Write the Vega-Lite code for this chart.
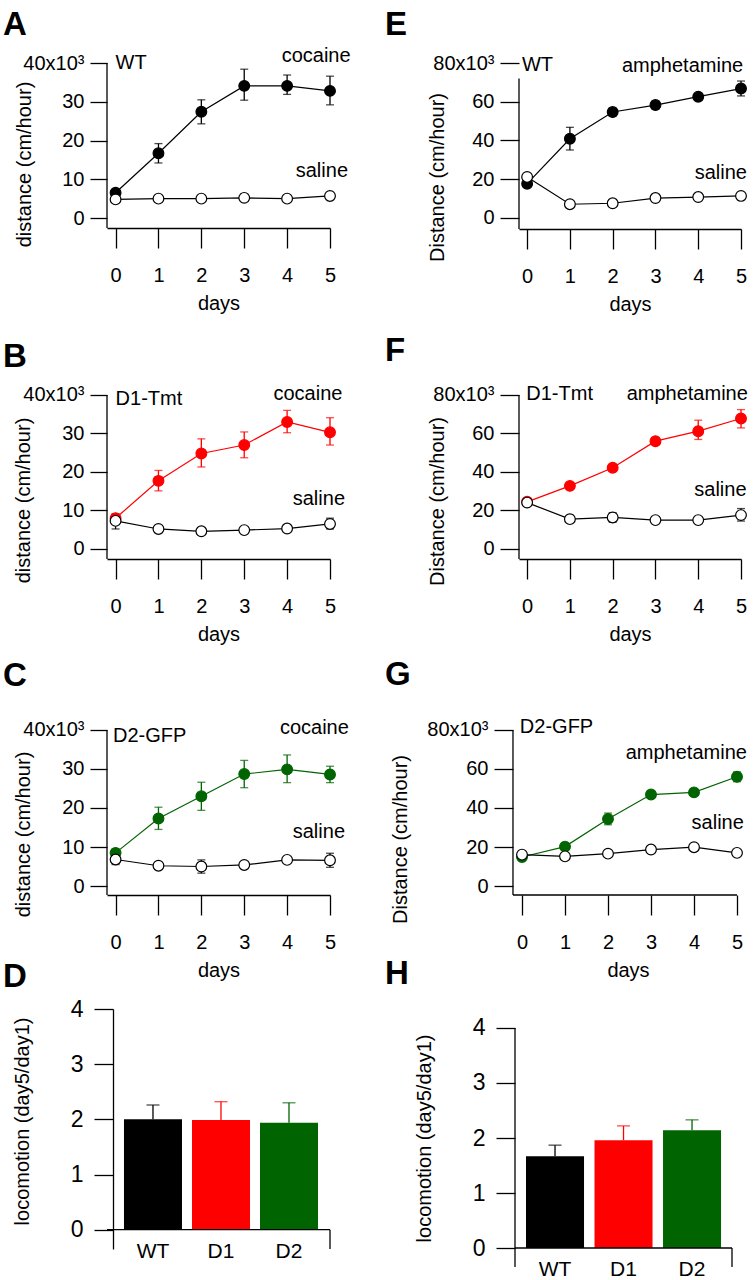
{
"$schema": "https://vega.github.io/schema/vega-lite/v6.json",
"background": "white",
"padding": {"left": 3, "top": 9, "right": 0, "bottom": 0},
"datasets": {
"lines": [
{"panel":"A","group":"drug","day":0,"mean":6500,"lo":5800,"hi":7200},
{"panel":"A","group":"drug","day":1,"mean":16700,"lo":14200,"hi":19200},
{"panel":"A","group":"drug","day":2,"mean":27400,"lo":24300,"hi":30500},
{"panel":"A","group":"drug","day":3,"mean":34100,"lo":30400,"hi":38400},
{"panel":"A","group":"drug","day":4,"mean":34100,"lo":31900,"hi":36900},
{"panel":"A","group":"drug","day":5,"mean":32800,"lo":29200,"hi":36600},
{"panel":"A","group":"saline","day":0,"mean":4800,"lo":4300,"hi":5300},
{"panel":"A","group":"saline","day":1,"mean":5000,"lo":4600,"hi":5400},
{"panel":"A","group":"saline","day":2,"mean":5000,"lo":4600,"hi":5400},
{"panel":"A","group":"saline","day":3,"mean":5200,"lo":4300,"hi":6200},
{"panel":"A","group":"saline","day":4,"mean":5000,"lo":4600,"hi":5400},
{"panel":"A","group":"saline","day":5,"mean":5700,"lo":5300,"hi":6100},
{"panel":"B","group":"drug","day":0,"mean":8000,"lo":7000,"hi":9000},
{"panel":"B","group":"drug","day":1,"mean":17700,"lo":15100,"hi":20400},
{"panel":"B","group":"drug","day":2,"mean":24800,"lo":21300,"hi":28600},
{"panel":"B","group":"drug","day":3,"mean":27000,"lo":23700,"hi":30400},
{"panel":"B","group":"drug","day":4,"mean":33000,"lo":30200,"hi":36000},
{"panel":"B","group":"drug","day":5,"mean":30300,"lo":27000,"hi":34100},
{"panel":"B","group":"saline","day":0,"mean":7300,"lo":5200,"hi":9100},
{"panel":"B","group":"saline","day":1,"mean":5200,"lo":4700,"hi":5700},
{"panel":"B","group":"saline","day":2,"mean":4600,"lo":4100,"hi":5100},
{"panel":"B","group":"saline","day":3,"mean":4900,"lo":4400,"hi":5400},
{"panel":"B","group":"saline","day":4,"mean":5300,"lo":4800,"hi":5800},
{"panel":"B","group":"saline","day":5,"mean":6500,"lo":5200,"hi":8000},
{"panel":"C","group":"drug","day":0,"mean":8500,"lo":7500,"hi":9500},
{"panel":"C","group":"drug","day":1,"mean":17300,"lo":14500,"hi":20200},
{"panel":"C","group":"drug","day":2,"mean":23000,"lo":19400,"hi":26600},
{"panel":"C","group":"drug","day":3,"mean":28700,"lo":25200,"hi":32200},
{"panel":"C","group":"drug","day":4,"mean":29900,"lo":26500,"hi":33600},
{"panel":"C","group":"drug","day":5,"mean":28600,"lo":26500,"hi":30700},
{"panel":"C","group":"saline","day":0,"mean":6800,"lo":5500,"hi":8000},
{"panel":"C","group":"saline","day":1,"mean":5200,"lo":4700,"hi":5700},
{"panel":"C","group":"saline","day":2,"mean":5000,"lo":3300,"hi":6700},
{"panel":"C","group":"saline","day":3,"mean":5400,"lo":4900,"hi":5900},
{"panel":"C","group":"saline","day":4,"mean":6700,"lo":6200,"hi":7200},
{"panel":"C","group":"saline","day":5,"mean":6600,"lo":4800,"hi":8400},
{"panel":"E","group":"drug","day":0,"mean":17700,"lo":16500,"hi":18900},
{"panel":"E","group":"drug","day":1,"mean":40900,"lo":35100,"hi":46800},
{"panel":"E","group":"drug","day":2,"mean":54700,"lo":52700,"hi":56700},
{"panel":"E","group":"drug","day":3,"mean":58300,"lo":56300,"hi":60300},
{"panel":"E","group":"drug","day":4,"mean":62600,"lo":61000,"hi":64200},
{"panel":"E","group":"drug","day":5,"mean":66800,"lo":63000,"hi":70700},
{"panel":"E","group":"saline","day":0,"mean":21200,"lo":20200,"hi":22200},
{"panel":"E","group":"saline","day":1,"mean":7100,"lo":6300,"hi":7900},
{"panel":"E","group":"saline","day":2,"mean":7600,"lo":6800,"hi":8400},
{"panel":"E","group":"saline","day":3,"mean":10300,"lo":9500,"hi":11100},
{"panel":"E","group":"saline","day":4,"mean":10800,"lo":10000,"hi":11600},
{"panel":"E","group":"saline","day":5,"mean":11400,"lo":10600,"hi":12200},
{"panel":"F","group":"drug","day":0,"mean":24500,"lo":23500,"hi":25500},
{"panel":"F","group":"drug","day":1,"mean":32800,"lo":31300,"hi":34300},
{"panel":"F","group":"drug","day":2,"mean":42200,"lo":40700,"hi":43700},
{"panel":"F","group":"drug","day":3,"mean":56000,"lo":54500,"hi":57500},
{"panel":"F","group":"drug","day":4,"mean":61200,"lo":56900,"hi":66900},
{"panel":"F","group":"drug","day":5,"mean":67800,"lo":62900,"hi":72400},
{"panel":"F","group":"saline","day":0,"mean":24100,"lo":23100,"hi":25100},
{"panel":"F","group":"saline","day":1,"mean":15500,"lo":13500,"hi":17500},
{"panel":"F","group":"saline","day":2,"mean":16400,"lo":13900,"hi":18900},
{"panel":"F","group":"saline","day":3,"mean":15000,"lo":14000,"hi":16000},
{"panel":"F","group":"saline","day":4,"mean":15000,"lo":14000,"hi":16000},
{"panel":"F","group":"saline","day":5,"mean":17600,"lo":14500,"hi":21000},
{"panel":"G","group":"drug","day":0,"mean":14900,"lo":13900,"hi":15900},
{"panel":"G","group":"drug","day":1,"mean":20200,"lo":19000,"hi":21400},
{"panel":"G","group":"drug","day":2,"mean":34400,"lo":31400,"hi":37400},
{"panel":"G","group":"drug","day":3,"mean":46900,"lo":45400,"hi":48400},
{"panel":"G","group":"drug","day":4,"mean":48000,"lo":46500,"hi":49500},
{"panel":"G","group":"drug","day":5,"mean":56000,"lo":53500,"hi":58500},
{"panel":"G","group":"saline","day":0,"mean":16100,"lo":15100,"hi":17100},
{"panel":"G","group":"saline","day":1,"mean":15200,"lo":14400,"hi":16000},
{"panel":"G","group":"saline","day":2,"mean":16600,"lo":15800,"hi":17400},
{"panel":"G","group":"saline","day":3,"mean":18700,"lo":17900,"hi":19500},
{"panel":"G","group":"saline","day":4,"mean":19900,"lo":19100,"hi":20700},
{"panel":"G","group":"saline","day":5,"mean":17000,"lo":16200,"hi":17800}
],
"bars": [
{"panel":"D","genotype":"WT","ratio":2.0,"upper":2.26},
{"panel":"D","genotype":"D1","ratio":1.99,"upper":2.32},
{"panel":"D","genotype":"D2","ratio":1.94,"upper":2.3},
{"panel":"H","genotype":"WT","ratio":1.67,"upper":1.87},
{"panel":"H","genotype":"D1","ratio":1.96,"upper":2.22},
{"panel":"H","genotype":"D2","ratio":2.14,"upper":2.33}
]
},
"columns": 2,
"bounds": "flush",
"spacing": {"row": 114, "column": 189},
"resolve": {"scale": {"x": "independent", "y": "independent", "color": "independent"}},
"concat": [
{
"width": 223, "height": 165,
"title": {"text": "A", "dx": -104, "offset": 4},
"layer": [
{"data": {"name": "lines"}, "transform": [{"filter": "datum.panel === 'A'"}],
 "mark": {"type": "errorbar", "ticks": {"size": 8}, "thickness": 1.3},
 "encoding": {
  "x": {"field": "day", "type": "quantitative", "scale": {"domain": [-0.2, 5], "nice": false, "zero": false},
        "axis": {"values": [0,1,2,3,4,5], "format": "d", "title": "days", "tickSize": 20, "labelPadding": 17, "titlePadding": 8}},
  "y": {"field": "lo", "type": "quantitative", "scale": {"domain": [-2580, 40000], "nice": false, "zero": false},
        "axis": {"values": [0,10000,20000,30000,40000], "labelExpr": "datum.value === 40000 ? '40x10³' : format(datum.value / 1000, 'd')", "domain": false, "tickSize": 17, "labelPadding": 6, "title": "distance (cm/hour)", "titleX": -73, "titleY": 101}},
  "y2": {"field": "hi"},
  "color": {"condition": {"test": "datum.group === 'saline'", "value": "#000000"}, "value": "#000000"}}},
{"data": {"name": "lines"}, "transform": [{"filter": "datum.panel === 'A'"}],
 "mark": {"type": "line", "strokeWidth": 1.2},
 "encoding": {"x": {"field": "day", "type": "quantitative"}, "y": {"field": "mean", "type": "quantitative"}, "detail": {"field": "group"},
  "color": {"condition": {"test": "datum.group === 'saline'", "value": "#000000"}, "value": "#000000"}}},
{"data": {"name": "lines"}, "transform": [{"filter": "datum.panel === 'A'"}],
 "mark": {"type": "point", "filled": true, "size": 115, "strokeWidth": 1.2, "opacity": 1},
 "encoding": {"x": {"field": "day", "type": "quantitative"}, "y": {"field": "mean", "type": "quantitative"},
  "fill": {"condition": {"test": "datum.group === 'saline'", "value": "#ffffff"}, "value": "#000000"},
  "stroke": {"condition": {"test": "datum.group === 'saline'", "value": "#000000"}, "value": "#000000"}}},
{"data": {"values": [{}]}, "mark": {"type": "rule", "color": "#000000", "strokeWidth": 1.3},
 "encoding": {"x": {"datum": -0.2}, "y": {"datum": -2580}, "y2": {"datum": 40000}}},
{"data": {"values": [{"t": "WT", "d": 0.0, "v": 39900}]},
 "mark": {"type": "text", "align": "left", "baseline": "middle", "fontSize": 20, "color": "#000000"},
 "encoding": {"x": {"field": "d", "type": "quantitative"}, "y": {"field": "v", "type": "quantitative"}, "text": {"field": "t"}}},
{"data": {"values": [{"t": "cocaine", "d": 5.48, "v": 41800}, {"t": "saline", "d": 5.42, "v": 12100}]},
 "mark": {"type": "text", "align": "right", "baseline": "middle", "fontSize": 20, "color": "#000000"},
 "encoding": {"x": {"field": "d", "type": "quantitative"}, "y": {"field": "v", "type": "quantitative"}, "text": {"field": "t"}}}
]
},
{
"width": 222, "height": 166,
"title": {"text": "E", "dx": -134, "offset": 11},
"layer": [
{"data": {"name": "lines"}, "transform": [{"filter": "datum.panel === 'E'"}],
 "mark": {"type": "errorbar", "ticks": {"size": 8}, "thickness": 1.3},
 "encoding": {
  "x": {"field": "day", "type": "quantitative", "scale": {"domain": [-0.19, 5], "nice": false, "zero": false},
        "axis": {"values": [0,1,2,3,4,5], "format": "d", "title": "days", "tickSize": 20, "labelPadding": 17, "titlePadding": 8}},
  "y": {"field": "lo", "type": "quantitative", "scale": {"domain": [-5680, 80000], "nice": false, "zero": false},
        "axis": {"values": [0,20000,40000,60000,80000], "labelExpr": "datum.value === 80000 ? '80x10³' : format(datum.value / 1000, 'd')", "domain": false, "tickSize": 19, "labelPadding": 6, "title": "Distance (cm/hour)", "titleX": -72, "titleY": 114}},
  "y2": {"field": "hi"},
  "color": {"condition": {"test": "datum.group === 'saline'", "value": "#000000"}, "value": "#000000"}}},
{"data": {"name": "lines"}, "transform": [{"filter": "datum.panel === 'E'"}],
 "mark": {"type": "line", "strokeWidth": 1.2},
 "encoding": {"x": {"field": "day", "type": "quantitative"}, "y": {"field": "mean", "type": "quantitative"}, "detail": {"field": "group"},
  "color": {"condition": {"test": "datum.group === 'saline'", "value": "#000000"}, "value": "#000000"}}},
{"data": {"name": "lines"}, "transform": [{"filter": "datum.panel === 'E'"}],
 "mark": {"type": "point", "filled": true, "size": 115, "strokeWidth": 1.2, "opacity": 1},
 "encoding": {"x": {"field": "day", "type": "quantitative"}, "y": {"field": "mean", "type": "quantitative"},
  "fill": {"condition": {"test": "datum.group === 'saline'", "value": "#ffffff"}, "value": "#000000"},
  "stroke": {"condition": {"test": "datum.group === 'saline'", "value": "#000000"}, "value": "#000000"}}},
{"data": {"values": [{}]}, "mark": {"type": "rule", "color": "#000000", "strokeWidth": 1.3},
 "encoding": {"x": {"datum": -0.19}, "y": {"datum": -5680}, "y2": {"datum": 72000}}},
{"data": {"values": [{"t": "WT", "d": -0.12, "v": 79000}]},
 "mark": {"type": "text", "align": "left", "baseline": "middle", "fontSize": 20, "color": "#000000"},
 "encoding": {"x": {"field": "d", "type": "quantitative"}, "y": {"field": "v", "type": "quantitative"}, "text": {"field": "t"}}},
{"data": {"values": [{"t": "amphetamine", "d": 5.05, "v": 78500}, {"t": "saline", "d": 5.14, "v": 23400}]},
 "mark": {"type": "text", "align": "right", "baseline": "middle", "fontSize": 20, "color": "#000000"},
 "encoding": {"x": {"field": "d", "type": "quantitative"}, "y": {"field": "v", "type": "quantitative"}, "text": {"field": "t"}}}
]
},
{
"width": 223, "height": 216,
"title": {"text": "B", "dx": -104, "offset": -31},
"layer": [
{"data": {"name": "lines"}, "transform": [{"filter": "datum.panel === 'B'"}],
 "mark": {"type": "errorbar", "ticks": {"size": 8}, "thickness": 1.3},
 "encoding": {
  "x": {"field": "day", "type": "quantitative", "scale": {"domain": [-0.2, 5], "nice": false, "zero": false},
        "axis": {"values": [0,1,2,3,4,5], "format": "d", "title": "days", "tickSize": 20, "labelPadding": 17, "titlePadding": 8}},
  "y": {"field": "lo", "type": "quantitative", "scale": {"domain": [-2600, 53500], "nice": false, "zero": false},
        "axis": {"values": [0,10000,20000,30000,40000], "labelExpr": "datum.value === 40000 ? '40x10³' : format(datum.value / 1000, 'd')", "domain": false, "tickSize": 17, "labelPadding": 6, "title": "distance (cm/hour)", "titleX": -74, "titleY": 157}},
  "y2": {"field": "hi"},
  "color": {"condition": {"test": "datum.group === 'saline'", "value": "#000000"}, "value": "#ff0000"}}},
{"data": {"name": "lines"}, "transform": [{"filter": "datum.panel === 'B'"}],
 "mark": {"type": "line", "strokeWidth": 1.2},
 "encoding": {"x": {"field": "day", "type": "quantitative"}, "y": {"field": "mean", "type": "quantitative"}, "detail": {"field": "group"},
  "color": {"condition": {"test": "datum.group === 'saline'", "value": "#000000"}, "value": "#ff0000"}}},
{"data": {"name": "lines"}, "transform": [{"filter": "datum.panel === 'B'"}],
 "mark": {"type": "point", "filled": true, "size": 115, "strokeWidth": 1.2, "opacity": 1},
 "encoding": {"x": {"field": "day", "type": "quantitative"}, "y": {"field": "mean", "type": "quantitative"},
  "fill": {"condition": {"test": "datum.group === 'saline'", "value": "#ffffff"}, "value": "#ff0000"},
  "stroke": {"condition": {"test": "datum.group === 'saline'", "value": "#000000"}, "value": "#ff0000"}}},
{"data": {"values": [{}]}, "mark": {"type": "rule", "color": "#000000", "strokeWidth": 1.3},
 "encoding": {"x": {"datum": -0.2}, "y": {"datum": -2600}, "y2": {"datum": 40000}}},
{"data": {"values": [{"t": "D1-Tmt", "d": 0.0, "v": 39000}]},
 "mark": {"type": "text", "align": "left", "baseline": "middle", "fontSize": 20, "color": "#000000"},
 "encoding": {"x": {"field": "d", "type": "quantitative"}, "y": {"field": "v", "type": "quantitative"}, "text": {"field": "t"}}},
{"data": {"values": [{"t": "cocaine", "d": 5.29, "v": 40200}, {"t": "saline", "d": 5.35, "v": 13000}]},
 "mark": {"type": "text", "align": "right", "baseline": "middle", "fontSize": 20, "color": "#000000"},
 "encoding": {"x": {"field": "d", "type": "quantitative"}, "y": {"field": "v", "type": "quantitative"}, "text": {"field": "t"}}}
]
},
{
"width": 222, "height": 216,
"title": {"text": "F", "dx": -134, "offset": -25},
"layer": [
{"data": {"name": "lines"}, "transform": [{"filter": "datum.panel === 'F'"}],
 "mark": {"type": "errorbar", "ticks": {"size": 8}, "thickness": 1.3},
 "encoding": {
  "x": {"field": "day", "type": "quantitative", "scale": {"domain": [-0.19, 5], "nice": false, "zero": false},
        "axis": {"values": [0,1,2,3,4,5], "format": "d", "title": "days", "tickSize": 20, "labelPadding": 17, "titlePadding": 8}},
  "y": {"field": "lo", "type": "quantitative", "scale": {"domain": [-5200, 107000], "nice": false, "zero": false},
        "axis": {"values": [0,20000,40000,60000,80000], "labelExpr": "datum.value === 80000 ? '80x10³' : format(datum.value / 1000, 'd')", "domain": false, "tickSize": 19, "labelPadding": 6, "title": "Distance (cm/hour)", "titleX": -72, "titleY": 158}},
  "y2": {"field": "hi"},
  "color": {"condition": {"test": "datum.group === 'saline'", "value": "#000000"}, "value": "#ff0000"}}},
{"data": {"name": "lines"}, "transform": [{"filter": "datum.panel === 'F'"}],
 "mark": {"type": "line", "strokeWidth": 1.2},
 "encoding": {"x": {"field": "day", "type": "quantitative"}, "y": {"field": "mean", "type": "quantitative"}, "detail": {"field": "group"},
  "color": {"condition": {"test": "datum.group === 'saline'", "value": "#000000"}, "value": "#ff0000"}}},
{"data": {"name": "lines"}, "transform": [{"filter": "datum.panel === 'F'"}],
 "mark": {"type": "point", "filled": true, "size": 115, "strokeWidth": 1.2, "opacity": 1},
 "encoding": {"x": {"field": "day", "type": "quantitative"}, "y": {"field": "mean", "type": "quantitative"},
  "fill": {"condition": {"test": "datum.group === 'saline'", "value": "#ffffff"}, "value": "#ff0000"},
  "stroke": {"condition": {"test": "datum.group === 'saline'", "value": "#000000"}, "value": "#ff0000"}}},
{"data": {"values": [{}]}, "mark": {"type": "rule", "color": "#000000", "strokeWidth": 1.3},
 "encoding": {"x": {"datum": -0.19}, "y": {"datum": -5200}, "y2": {"datum": 80000}}},
{"data": {"values": [{"t": "D1-Tmt", "d": -0.02, "v": 80500}]},
 "mark": {"type": "text", "align": "left", "baseline": "middle", "fontSize": 20, "color": "#000000"},
 "encoding": {"x": {"field": "d", "type": "quantitative"}, "y": {"field": "v", "type": "quantitative"}, "text": {"field": "t"}}},
{"data": {"values": [{"t": "amphetamine", "d": 5.16, "v": 80500}, {"t": "saline", "d": 5.13, "v": 30600}]},
 "mark": {"type": "text", "align": "right", "baseline": "middle", "fontSize": 20, "color": "#000000"},
 "encoding": {"x": {"field": "d", "type": "quantitative"}, "y": {"field": "v", "type": "quantitative"}, "text": {"field": "t"}}}
]
},
{
"width": 223, "height": 222,
"title": {"text": "C", "dx": -104, "offset": -20},
"layer": [
{"data": {"name": "lines"}, "transform": [{"filter": "datum.panel === 'C'"}],
 "mark": {"type": "errorbar", "ticks": {"size": 8}, "thickness": 1.3},
 "encoding": {
  "x": {"field": "day", "type": "quantitative", "scale": {"domain": [-0.2, 5], "nice": false, "zero": false},
        "axis": {"values": [0,1,2,3,4,5], "format": "d", "title": "days", "tickSize": 20, "labelPadding": 17, "titlePadding": 8}},
  "y": {"field": "lo", "type": "quantitative", "scale": {"domain": [-2300, 54600], "nice": false, "zero": false},
        "axis": {"values": [0,10000,20000,30000,40000], "labelExpr": "datum.value === 40000 ? '40x10³' : format(datum.value / 1000, 'd')", "domain": false, "tickSize": 17, "labelPadding": 6, "title": "distance (cm/hour)", "titleX": -74, "titleY": 161}},
  "y2": {"field": "hi"},
  "color": {"condition": {"test": "datum.group === 'saline'", "value": "#000000"}, "value": "#006400"}}},
{"data": {"name": "lines"}, "transform": [{"filter": "datum.panel === 'C'"}],
 "mark": {"type": "line", "strokeWidth": 1.2},
 "encoding": {"x": {"field": "day", "type": "quantitative"}, "y": {"field": "mean", "type": "quantitative"}, "detail": {"field": "group"},
  "color": {"condition": {"test": "datum.group === 'saline'", "value": "#000000"}, "value": "#006400"}}},
{"data": {"name": "lines"}, "transform": [{"filter": "datum.panel === 'C'"}],
 "mark": {"type": "point", "filled": true, "size": 115, "strokeWidth": 1.2, "opacity": 1},
 "encoding": {"x": {"field": "day", "type": "quantitative"}, "y": {"field": "mean", "type": "quantitative"},
  "fill": {"condition": {"test": "datum.group === 'saline'", "value": "#ffffff"}, "value": "#006400"},
  "stroke": {"condition": {"test": "datum.group === 'saline'", "value": "#000000"}, "value": "#006400"}}},
{"data": {"values": [{}]}, "mark": {"type": "rule", "color": "#000000", "strokeWidth": 1.3},
 "encoding": {"x": {"datum": -0.2}, "y": {"datum": -2300}, "y2": {"datum": 40000}}},
{"data": {"values": [{"t": "D2-GFP", "d": -0.06, "v": 38500}]},
 "mark": {"type": "text", "align": "left", "baseline": "middle", "fontSize": 20, "color": "#000000"},
 "encoding": {"x": {"field": "d", "type": "quantitative"}, "y": {"field": "v", "type": "quantitative"}, "text": {"field": "t"}}},
{"data": {"values": [{"t": "cocaine", "d": 5.44, "v": 40500}, {"t": "saline", "d": 5.35, "v": 13900}]},
 "mark": {"type": "text", "align": "right", "baseline": "middle", "fontSize": 20, "color": "#000000"},
 "encoding": {"x": {"field": "d", "type": "quantitative"}, "y": {"field": "v", "type": "quantitative"}, "text": {"field": "t"}}}
]
},
{
"width": 218, "height": 222,
"title": {"text": "G", "dx": -134, "offset": -19},
"layer": [
{"data": {"name": "lines"}, "transform": [{"filter": "datum.panel === 'G'"}],
 "mark": {"type": "errorbar", "ticks": {"size": 8}, "thickness": 1.3},
 "encoding": {
  "x": {"field": "day", "type": "quantitative", "scale": {"domain": [-0.07, 5], "nice": false, "zero": false},
        "axis": {"values": [0,1,2,3,4,5], "format": "d", "title": "days", "domain": false, "tickSize": 20, "labelPadding": 17, "titlePadding": 8}},
  "y": {"field": "lo", "type": "quantitative", "scale": {"domain": [-4600, 109200], "nice": false, "zero": false},
        "axis": {"values": [0,20000,40000,60000,80000], "labelExpr": "datum.value === 80000 ? '80x10³' : format(datum.value / 1000, 'd')", "domain": false, "offset": 6, "tickSize": 19, "labelPadding": 6, "title": "Distance (cm/hour)", "titleX": -103, "titleY": 166}},
  "y2": {"field": "hi"},
  "color": {"condition": {"test": "datum.group === 'saline'", "value": "#000000"}, "value": "#006400"}}},
{"data": {"name": "lines"}, "transform": [{"filter": "datum.panel === 'G'"}],
 "mark": {"type": "line", "strokeWidth": 1.2},
 "encoding": {"x": {"field": "day", "type": "quantitative"}, "y": {"field": "mean", "type": "quantitative"}, "detail": {"field": "group"},
  "color": {"condition": {"test": "datum.group === 'saline'", "value": "#000000"}, "value": "#006400"}}},
{"data": {"name": "lines"}, "transform": [{"filter": "datum.panel === 'G'"}],
 "mark": {"type": "point", "filled": true, "size": 115, "strokeWidth": 1.2, "opacity": 1},
 "encoding": {"x": {"field": "day", "type": "quantitative"}, "y": {"field": "mean", "type": "quantitative"},
  "fill": {"condition": {"test": "datum.group === 'saline'", "value": "#ffffff"}, "value": "#006400"},
  "stroke": {"condition": {"test": "datum.group === 'saline'", "value": "#000000"}, "value": "#006400"}}},
{"data": {"values": [{}]}, "mark": {"type": "rule", "color": "#000000", "strokeWidth": 1.3},
 "encoding": {"x": {"datum": -0.21}, "y": {"datum": -4600}, "y2": {"datum": 80000}}},
{"data": {"values": [{}]}, "mark": {"type": "rule", "color": "#000000", "strokeWidth": 1.3},
 "encoding": {"x": {"datum": -0.21}, "x2": {"datum": 5}, "y": {"datum": -4600}}},
{"data": {"values": [{"t": "D2-GFP", "d": -0.05, "v": 81500}]},
 "mark": {"type": "text", "align": "left", "baseline": "middle", "fontSize": 20, "color": "#000000"},
 "encoding": {"x": {"field": "d", "type": "quantitative"}, "y": {"field": "v", "type": "quantitative"}, "text": {"field": "t"}}},
{"data": {"values": [{"t": "amphetamine", "d": 5.23, "v": 68400}, {"t": "saline", "d": 5.16, "v": 32100}]},
 "mark": {"type": "text", "align": "right", "baseline": "middle", "fontSize": 20, "color": "#000000"},
 "encoding": {"x": {"field": "d", "type": "quantitative"}, "y": {"field": "v", "type": "quantitative"}, "text": {"field": "t"}}}
]
},
{
"width": 223, "height": 240,
"title": {"text": "D", "dx": -104, "offset": 4},
"layer": [
{"layer": [
 {"data": {"name": "bars"}, "transform": [{"filter": "datum.panel === 'D'"}],
  "mark": {"type": "rule", "strokeWidth": 1.3},
  "encoding": {
   "x": {"field": "genotype", "type": "nominal", "sort": ["WT","D1","D2"], "scale": {"domain": ["WT","D1","D2"], "paddingInner": 0.147, "paddingOuter": 0.213, "align": 0.586},
         "axis": {"offset": -19, "domain": false, "ticks": false, "labelPadding": 10, "labelFontSize": 21, "labelAngle": 0, "title": null}},
   "y": {"field": "ratio", "type": "quantitative", "scale": {"domain": [-0.35, 4], "nice": false, "zero": false},
         "axis": {"values": [0,1,2,3,4], "format": "d", "offset": -6, "tickSize": 19, "labelFontSize": 23, "labelPadding": 11, "title": "locomotion (day5/day1)", "titleX": -81, "titleY": 112}},
   "y2": {"field": "upper"},
   "color": {"field": "genotype", "type": "nominal", "scale": {"domain": ["WT","D1","D2"], "range": ["#000000","#ff0000","#006400"]}, "legend": null}}},
 {"data": {"name": "bars"}, "transform": [{"filter": "datum.panel === 'D'"}],
  "mark": {"type": "tick", "size": 13, "thickness": 1.3},
  "encoding": {"x": {"field": "genotype", "type": "nominal", "sort": ["WT","D1","D2"]}, "y": {"field": "upper", "type": "quantitative"},
   "color": {"field": "genotype", "type": "nominal", "legend": null}}},
 {"data": {"name": "bars"}, "transform": [{"filter": "datum.panel === 'D'"}],
  "mark": {"type": "bar"},
  "encoding": {"x": {"field": "genotype", "type": "nominal", "sort": ["WT","D1","D2"]}, "y": {"field": "ratio", "type": "quantitative"}, "y2": {"datum": 0},
   "color": {"field": "genotype", "type": "nominal", "legend": null}}}
]},
{"layer": [
 {"data": {"values": [{}]}, "mark": {"type": "rule", "color": "#000000", "strokeWidth": 1.3},
  "encoding": {"x": {"datum": 0, "type": "quantitative", "scale": {"domain": [0, 1], "nice": false, "zero": false}, "axis": null}, "x2": {"datum": 1}, "y": {"datum": 0}}},
 {"data": {"values": [{}]}, "mark": {"type": "rule", "color": "#000000", "strokeWidth": 1.3},
  "encoding": {"x": {"datum": 1, "type": "quantitative"}, "y": {"datum": 0}, "y2": {"datum": -0.35}}}
]}
],
"resolve": {"scale": {"x": "independent"}}
},
{
"width": 213, "height": 258,
"title": {"text": "H", "dx": -134, "offset": 18},
"layer": [
{"layer": [
 {"data": {"name": "bars"}, "transform": [{"filter": "datum.panel === 'H'"}],
  "mark": {"type": "rule", "strokeWidth": 1.3},
  "encoding": {
   "x": {"field": "genotype", "type": "nominal", "sort": ["WT","D1","D2"], "scale": {"domain": ["WT","D1","D2"], "paddingInner": 0.153, "paddingOuter": 0.131, "align": 0.39},
         "axis": {"offset": -19, "domain": false, "ticks": false, "labelPadding": 10, "labelFontSize": 21, "labelAngle": 0, "title": null}},
   "y": {"field": "ratio", "type": "quantitative", "scale": {"domain": [-0.345, 4.345], "nice": false, "zero": false},
         "axis": {"values": [0,1,2,3,4], "format": "d", "domain": false, "offset": 4, "tickSize": 19, "labelFontSize": 23, "labelPadding": 11, "title": "locomotion (day5/day1)", "titleX": -81, "titleY": 129}},
   "y2": {"field": "upper"},
   "color": {"field": "genotype", "type": "nominal", "scale": {"domain": ["WT","D1","D2"], "range": ["#000000","#ff0000","#006400"]}, "legend": null}}},
 {"data": {"name": "bars"}, "transform": [{"filter": "datum.panel === 'H'"}],
  "mark": {"type": "tick", "size": 13, "thickness": 1.3},
  "encoding": {"x": {"field": "genotype", "type": "nominal", "sort": ["WT","D1","D2"]}, "y": {"field": "upper", "type": "quantitative"},
   "color": {"field": "genotype", "type": "nominal", "legend": null}}},
 {"data": {"name": "bars"}, "transform": [{"filter": "datum.panel === 'H'"}],
  "mark": {"type": "bar"},
  "encoding": {"x": {"field": "genotype", "type": "nominal", "sort": ["WT","D1","D2"]}, "y": {"field": "ratio", "type": "quantitative"}, "y2": {"datum": 0},
   "color": {"field": "genotype", "type": "nominal", "legend": null}}}
]},
{"layer": [
 {"data": {"values": [{}]}, "mark": {"type": "rule", "color": "#000000", "strokeWidth": 1.3},
  "encoding": {"x": {"datum": -0.0188, "type": "quantitative", "scale": {"domain": [0, 1], "nice": false, "zero": false}, "axis": null}, "x2": {"datum": 1}, "y": {"datum": 0}}},
 {"data": {"values": [{}]}, "mark": {"type": "rule", "color": "#000000", "strokeWidth": 1.3},
  "encoding": {"x": {"datum": -0.0188, "type": "quantitative"}, "y": {"datum": -0.345}, "y2": {"datum": 4}}},
 {"data": {"values": [{}]}, "mark": {"type": "rule", "color": "#000000", "strokeWidth": 1.3},
  "encoding": {"x": {"datum": 1, "type": "quantitative"}, "y": {"datum": 0}, "y2": {"datum": -0.345}}}
]}
],
"resolve": {"scale": {"x": "independent"}}
}
],
"config": {
 "font": "Liberation Sans",
 "view": {"stroke": null},
 "axis": {"grid": false, "domainColor": "#000000", "tickColor": "#000000", "labelColor": "#000000", "titleColor": "#000000", "domainWidth": 1.3, "tickWidth": 1.3, "labelFontSize": 20, "titleFontSize": 20, "titleFontWeight": "normal", "labelFlush": false, "labelOverlap": false, "labelFont": "Liberation Sans", "titleFont": "Liberation Sans"},
 "title": {"color": "#000000", "fontSize": 33, "fontWeight": "bold", "anchor": "start", "frame": "group", "font": "Liberation Sans"},
 "text": {"font": "Liberation Sans"}
}
}
